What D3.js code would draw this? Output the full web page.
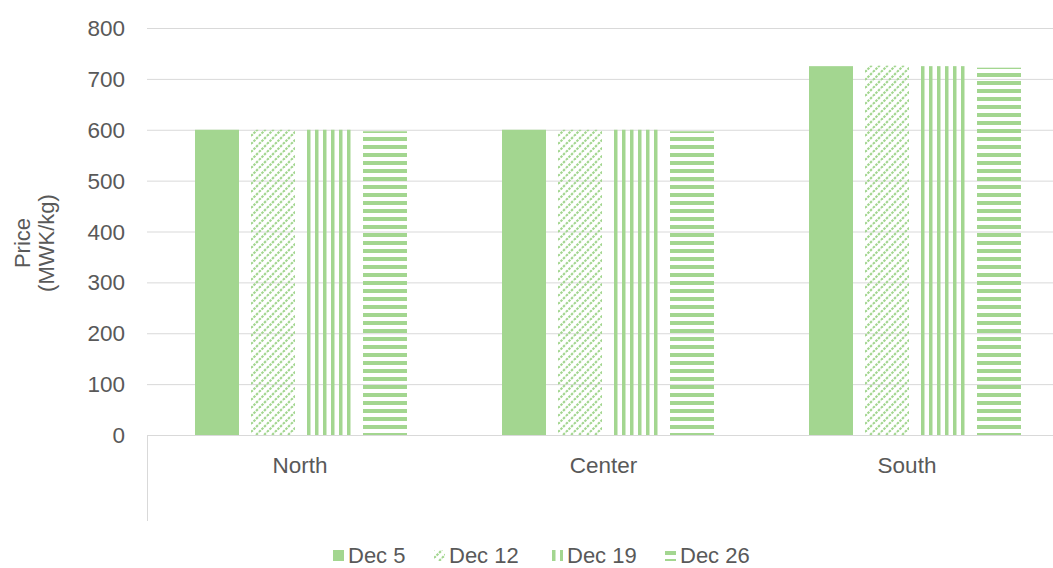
<!DOCTYPE html>
<html>
<head>
<meta charset="utf-8">
<script src="https://cdn.jsdelivr.net/npm/d3@7"></script>
<style>
  body { margin: 0; background: #fff; }
  text { font-family: "Liberation Sans", Arial, sans-serif; fill: #595959; }
</style>
</head>
<body>
<div id="chart"></div>
<script>
// DATA
var regions = ['North', 'Center', 'South'];
var weeks = ['Dec 5', 'Dec 12', 'Dec 19', 'Dec 26'];
var dec5 = [600, 600, 725];
var dec12 = [600, 600, 726];
var dec19 = [600, 600, 725];
var dec26 = [597, 597, 722];
var yTicks = [0, 100, 200, 300, 400, 500, 600, 700, 800];

var seriesVals = [dec5, dec12, dec19, dec26];
var green = '#a3d690';

var width = 1053, height = 568;
var svg = d3.select('#chart')
    .append('svg')
    .attr('width', width)
    .attr('height', height);

// patterns
var defs = svg.append('defs');

var pDiag = defs.append('pattern')
    .attr('id', 'pat1')
    .attr('patternUnits', 'userSpaceOnUse')
    .attr('width', 8).attr('height', 8);
[-8, 0, 8].forEach(function (o) {
    pDiag.append('line')
        .attr('x1', o).attr('y1', 8)
        .attr('x2', o + 8).attr('y2', 0)
        .attr('stroke', green)
        .attr('stroke-width', 2.2)
        .attr('stroke-dasharray', '2.5,1.1');
});

defs.append('pattern')
    .attr('id', 'pat2')
    .attr('patternUnits', 'userSpaceOnUse')
    .attr('width', 8).attr('height', 8)
    .append('rect')
    .attr('x', 0).attr('y', 0)
    .attr('width', 3.5).attr('height', 8)
    .attr('fill', green);

defs.append('pattern')
    .attr('id', 'pat3')
    .attr('patternUnits', 'userSpaceOnUse')
    .attr('width', 8).attr('height', 8)
    .append('rect')
    .attr('x', 0).attr('y', 1)
    .attr('width', 8).attr('height', 4)
    .attr('fill', green);

var fills = [green, 'url(#pat1)', 'url(#pat2)', 'url(#pat3)'];

// scales
var x0 = d3.scaleBand()
    .domain(regions)
    .range([147, 1068]);

var x1 = d3.scaleBand()
    .domain(weeks)
    .range([48, 260])
    .paddingInner(12 / 56)
    .paddingOuter(0);

// label positions (axis category centres)
var xLabel = d3.scalePoint()
    .domain(regions)
    .range([300, 907]);

var y = d3.scaleLinear()
    .domain([0, 800])
    .range([435, 28]);

// gridlines
svg.append('g')
    .selectAll('line')
    .data(yTicks.slice(1))
    .enter()
    .append('line')
    .attr('x1', 147).attr('x2', 1053)
    .attr('y1', d => y(d) + 0.5).attr('y2', d => y(d) + 0.5)
    .attr('stroke', '#d9d9d9')
    .attr('stroke-width', 1);

// y tick labels
svg.append('g')
    .selectAll('text')
    .data(yTicks)
    .enter()
    .append('text')
    .attr('x', 125)
    .attr('y', d => y(d) + 8)
    .attr('text-anchor', 'end')
    .style('font-size', '22.5px')
    .text(d => d);

// y title
var yTitle = svg.append('text')
    .attr('transform', 'translate(0, 243)rotate(-90)')
    .attr('text-anchor', 'middle')
    .style('font-size', '22px');
yTitle.append('tspan').attr('x', 0).attr('y', 30).text('Price');
yTitle.append('tspan').attr('x', 0).attr('y', 54).text('(MWK/kg)');

// bars
var groups = svg.append('g')
    .selectAll('g')
    .data(regions)
    .enter()
    .append('g')
    .attr('transform', d => 'translate(' + x0(d) + ',0)');

groups.selectAll('rect')
    .data((r, ri) => weeks.map((w, wi) => ({ week: w, wi: wi, value: seriesVals[wi][ri] })))
    .enter()
    .append('rect')
    .attr('x', d => x1(d.week))
    .attr('y', d => y(d.value))
    .attr('width', x1.bandwidth())
    .attr('height', d => y(0) - y(d.value))
    .attr('fill', d => fills[d.wi]);

// axes lines
svg.append('line')
    .attr('x1', 147).attr('x2', 1053)
    .attr('y1', 435.5).attr('y2', 435.5)
    .attr('stroke', '#d9d9d9');
svg.append('line')
    .attr('x1', 147.5).attr('x2', 147.5)
    .attr('y1', 435).attr('y2', 521)
    .attr('stroke', '#d9d9d9');

// category labels
svg.append('g')
    .selectAll('text')
    .data(regions)
    .enter()
    .append('text')
    .attr('x', d => xLabel(d))
    .attr('y', 473)
    .attr('text-anchor', 'middle')
    .style('font-size', '22.5px')
    .text(d => d);

// legend
var legendX = [333, 434, 552, 665];
var legend = svg.append('g')
    .selectAll('g')
    .data(weeks)
    .enter()
    .append('g')
    .attr('transform', (d, i) => 'translate(' + legendX[i] + ',550)');

legend.append('rect')
    .attr('width', 11).attr('height', 11)
    .attr('fill', (d, i) => fills[i]);

legend.append('text')
    .attr('x', 15)
    .attr('y', 13)
    .style('font-size', '22px')
    .text(d => d);
</script>
</body>
</html>
